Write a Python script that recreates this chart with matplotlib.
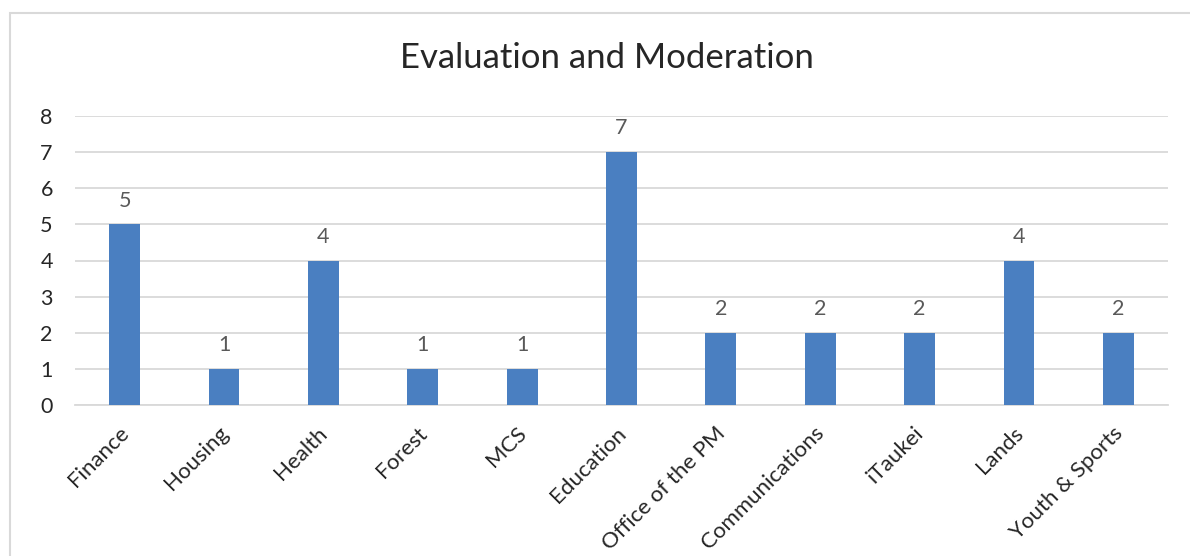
import matplotlib.pyplot as plt
from matplotlib.patches import Rectangle
from matplotlib.transforms import ScaledTranslation, blended_transform_factory

departments = ['Finance', 'Housing', 'Health', 'Forest', 'MCS', 'Education',
               'Office of the PM', 'Communications', 'iTaukei', 'Lands',
               'Youth & Sports']
counts = [5, 1, 4, 1, 1, 7, 2, 2, 2, 4, 2]
y_ticks = [0, 1, 2, 3, 4, 5, 6, 7, 8]

plt.rcParams['font.family'] = ['Lato', 'DejaVu Sans']

fig = plt.figure(figsize=(11.9, 5.56), dpi=100)
W, H = 1190, 556

# chart frame
fig.patches.append(Rectangle((10 / W, -0.1), 1.2, (H - 13) / H + 0.1,
                             transform=fig.transFigure, fill=False,
                             edgecolor='#D9D9D9', linewidth=1.5))

ax = fig.add_axes([75 / W, 151 / H, 1093 / W, 289 / H])
x = range(len(departments))
bars = ax.bar(x, counts, width=0.31, color='#4A7FC1', zorder=3)

for xi, v in zip(x, counts):
    ax.text(xi, v + 0.38, str(v), ha='center', va='bottom',
            fontsize=15.5, color='#595959')

ax.set_xlim(-0.5, len(departments) - 0.5)
ax.set_ylim(0, 8)
ax.set_yticks(y_ticks)
ax.grid(axis='y', color='#D9D9D9', linewidth=1.3, zorder=0)

# slanted category labels, drawn as plain text below each bar
ax.set_xticks(list(x))
ax.set_xticklabels([])
trans = blended_transform_factory(ax.transData, ax.transAxes) + \
    ScaledTranslation(-6 / 100, -18 / 100, fig.dpi_scale_trans)
for xi, name in zip(x, departments):
    ax.text(xi, 0, name, transform=trans, rotation=45, ha='right', va='top',
            rotation_mode='anchor', fontsize=16, color='#262626')

ax.tick_params(axis='y', labelsize=15.5, labelcolor='#262626', length=0, pad=16)
ax.tick_params(axis='x', length=0)
for s in ['top', 'right', 'left']:
    ax.spines[s].set_visible(False)
ax.spines['bottom'].set_color('#D9D9D9')
ax.spines['bottom'].set_linewidth(1.3)

fig.text(607 / W, 1 - 58 / H, 'Evaluation and Moderation', ha='center',
         va='center', fontsize=25, color='#262626')

fig.savefig('out.png', dpi=100)
